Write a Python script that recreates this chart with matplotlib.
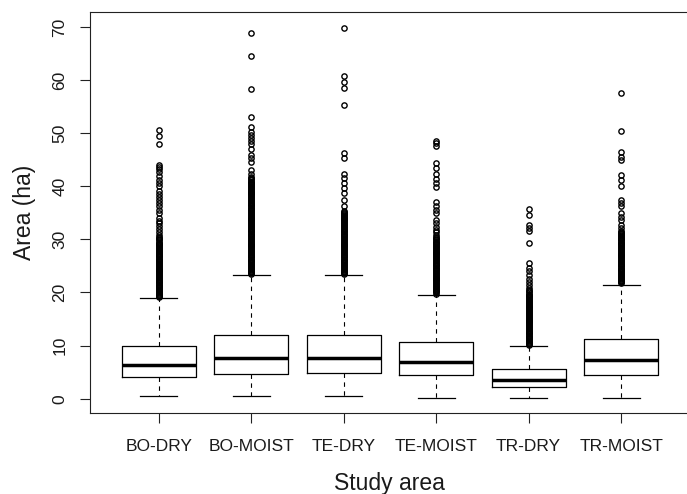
import numpy as np
import matplotlib
matplotlib.use('Agg')
import matplotlib.pyplot as plt

plt.rcParams['font.family'] = ['Liberation Sans', 'DejaVu Sans']

# ---- data ----
areas = ['BO-DRY', 'BO-MOIST', 'TE-DRY', 'TE-MOIST', 'TR-DRY', 'TR-MOIST']
medians = [6.35, 7.6, 7.6, 7.0, 3.6, 7.2]
q1s = [4.03, 4.65, 4.84, 4.4, 2.26, 4.4]
q3s = [9.98, 12.05, 12.05, 10.6, 5.5, 11.25]
whis_lo = [0.45, 0.45, 0.45, 0.2, 0.2, 0.2]
whis_hi = [18.9, 23.2, 23.2, 19.6, 10.0, 21.5]

out_bo_dry = [19.1, 19.4, 19.8, 20.1, 20.5, 20.8, 21.2, 21.5, 21.9, 22.2, 22.6,
              22.9, 23.3, 23.6, 24.0, 24.3, 24.7, 25.0, 25.4, 25.7, 26.1, 26.4,
              26.8, 27.1, 27.5, 27.8, 28.2, 28.5, 28.9, 29.2, 29.6, 30.0, 30.4,
              30.9, 31.4, 32.0, 32.5, 33.0, 33.5, 34.1, 35.0, 35.6, 36.3, 36.9,
              37.4, 38.0, 38.6, 39.2, 40.0, 40.6, 41.2, 42.0, 42.7, 43.3, 43.7,
              44.1, 48.0, 49.5, 50.6,
              # dense band
              19.25, 19.6, 19.95, 20.3, 20.65, 21.0, 21.35, 21.7, 22.05, 22.4,
              22.75, 23.1, 23.45, 23.8, 24.15, 24.5, 24.85, 25.2, 25.55, 25.9,
              26.25, 26.6, 26.95, 27.3, 27.65, 28.0, 28.35, 28.7, 29.05, 29.4,
              29.8, 30.2]
out_bo_moist = [23.4, 23.8, 24.1, 24.5, 24.8, 25.2, 25.5, 25.9, 26.2, 26.6, 26.9,
                27.3, 27.6, 28.0, 28.3, 28.7, 29.0, 29.4, 29.7, 30.1, 30.4, 30.8,
                31.1, 31.5, 31.8, 32.2, 32.5, 32.9, 33.2, 33.6, 33.9, 34.3, 34.6,
                35.0, 35.3, 35.7, 36.0, 36.4, 36.7, 37.1, 37.4, 37.8, 38.1, 38.5,
                38.8, 39.2, 39.5, 39.9, 40.2, 40.6, 40.9, 41.3, 41.7, 42.4, 43.0,
                44.5, 45.4, 45.9, 47.0, 48.0, 48.5, 49.0, 49.6, 50.3, 51.2, 53.1,
                58.3, 64.5, 68.8,
                # dense band
                23.6, 23.95, 24.3, 24.65, 25.0, 25.35, 25.7, 26.05, 26.4, 26.75,
                27.1, 27.45, 27.8, 28.15, 28.5, 28.85, 29.2, 29.55, 29.9, 30.25,
                30.6, 30.95, 31.3, 31.65, 32.0, 32.35, 32.7, 33.05, 33.4, 33.75,
                34.1, 34.45, 34.8, 35.15, 35.5, 35.85, 36.2, 36.55, 36.9, 37.25,
                37.6, 37.95, 38.3, 38.65, 39.0, 39.35, 39.7, 40.05, 40.4, 40.75,
                41.1, 41.5]
out_te_dry = [23.4, 23.8, 24.1, 24.5, 24.8, 25.2, 25.5, 25.9, 26.2, 26.6, 26.9,
              27.3, 27.6, 28.0, 28.3, 28.7, 29.0, 29.4, 29.7, 30.1, 30.4, 30.8,
              31.1, 31.5, 31.8, 32.2, 32.5, 32.9, 33.2, 33.6, 33.9, 34.3, 34.6,
              35.0, 35.4, 36.2, 37.4, 38.7, 39.6, 40.6, 41.5, 42.4, 45.4, 46.2,
              55.3, 58.6, 59.7, 60.8, 69.9,
              # dense band
              23.6, 23.95, 24.3, 24.65, 25.0, 25.35, 25.7, 26.05, 26.4, 26.75,
              27.1, 27.45, 27.8, 28.15, 28.5, 28.85, 29.2, 29.55, 29.9, 30.25,
              30.6, 30.95, 31.3, 31.65, 32.0, 32.35, 32.7, 33.05, 33.4, 33.75,
              34.1, 34.45, 34.8, 35.2]
out_te_moist = [19.8, 20.2, 20.5, 20.9, 21.2, 21.6, 21.9, 22.3, 22.6, 23.0, 23.3,
                23.7, 24.0, 24.4, 24.7, 25.1, 25.4, 25.8, 26.1, 26.5, 26.8, 27.2,
                27.5, 27.9, 28.2, 28.6, 28.9, 29.3, 29.6, 30.0, 30.5, 30.9, 31.4,
                31.8, 32.3, 33.1, 33.6, 34.9, 35.5, 36.3, 37.0, 39.8, 40.6, 41.3,
                42.4, 43.4, 44.3, 47.6, 48.1, 48.6,
                # dense band
                20.0, 20.35, 20.7, 21.05, 21.4, 21.75, 22.1, 22.45, 22.8, 23.15,
                23.5, 23.85, 24.2, 24.55, 24.9, 25.25, 25.6, 25.95, 26.3, 26.65,
                27.0, 27.35, 27.7, 28.05, 28.4, 28.75, 29.1, 29.45, 29.8, 30.2]
out_tr_dry = [10.2, 10.5, 10.9, 11.2, 11.6, 11.9, 12.3, 12.6, 13.0, 13.3, 13.7,
              14.0, 14.4, 14.7, 15.1, 15.4, 15.8, 16.1, 16.5, 16.8, 17.2, 17.5,
              17.9, 18.2, 18.6, 18.9, 19.3, 19.6, 20.0, 20.4, 20.9, 21.5, 22.0,
              22.5, 23.3, 24.1, 24.7, 25.6, 29.4, 31.5, 32.1, 32.7, 34.6, 35.7,
              # dense band
              10.35, 10.7, 11.05, 11.4, 11.75, 12.1, 12.45, 12.8, 13.15, 13.5,
              13.85, 14.2, 14.55, 14.9, 15.25, 15.6, 15.95, 16.3, 16.65, 17.0,
              17.35, 17.7, 18.05, 18.4, 18.75, 19.1, 19.45, 19.8, 20.2]
out_tr_moist = [21.7, 22.1, 22.4, 22.8, 23.1, 23.5, 23.8, 24.2, 24.5, 24.9, 25.2,
                25.6, 25.9, 26.3, 26.6, 27.0, 27.3, 27.7, 28.0, 28.4, 28.7, 29.1,
                29.4, 29.8, 30.1, 30.5, 30.8, 31.2, 31.6, 32.1, 32.7, 33.7, 34.3,
                34.9, 36.2, 36.8, 37.4, 40.0, 41.2, 42.1, 45.0, 45.6, 46.5, 50.4,
                57.6,
                # dense band
                21.9, 22.25, 22.6, 22.95, 23.3, 23.65, 24.0, 24.35, 24.7, 25.05,
                25.4, 25.75, 26.1, 26.45, 26.8, 27.15, 27.5, 27.85, 28.2, 28.55,
                28.9, 29.25, 29.6, 29.95, 30.3, 30.65, 31.0, 31.4]
outliers = [out_bo_dry, out_bo_moist, out_te_dry, out_te_moist, out_tr_dry, out_tr_moist]

yticks = [0, 10, 20, 30, 40, 50, 60, 70]

# ---- build stats for bxp ----
stats = []
for i in range(len(areas)):
    stats.append(dict(med=medians[i], q1=q1s[i], q3=q3s[i],
                      whislo=whis_lo[i], whishi=whis_hi[i],
                      fliers=np.array(outliers[i])))

pos = np.arange(1, len(areas) + 1)

fig = plt.figure(figsize=(6.87, 4.94), dpi=100)
ax = fig.add_axes([90/687, 1 - 413.3/494, 599.5/687, 401.3/494])

txt = '#1a1a1a'
ax.bxp(stats, positions=pos, widths=0.8, capwidths=0.4,
       boxprops=dict(color='black', linewidth=0.9),
       whiskerprops=dict(color='black', linewidth=0.8, linestyle=(0, (4, 4))),
       capprops=dict(color='black', linewidth=0.9),
       medianprops=dict(color='black', linewidth=2.5, solid_capstyle='butt'),
       flierprops=dict(marker='o', markersize=3.8, markerfacecolor='none',
                       markeredgecolor='black', markeredgewidth=1.0))

ax.set_xlim(0.257, 6.74)
ax.set_ylim(-2.75, 72.82)
ax.set_xticks(pos)
ax.set_xticklabels(areas)
ax.set_yticks(yticks)
ax.set_yticklabels([str(v) for v in yticks], rotation=90, va='center')

for sp in ax.spines.values():
    sp.set_linewidth(0.8)
    sp.set_color('#222222')

ax.tick_params(axis='both', direction='out', length=7.2, width=0.8,
               color='#222222', labelsize=12.5, labelcolor=txt)
ax.tick_params(axis='x', pad=11)
ax.tick_params(axis='y', pad=9)

ax.set_xlabel('Study area', fontsize=16.5, color=txt, labelpad=13)
ax.set_ylabel('Area (ha)', fontsize=16.5, color=txt, labelpad=12)

fig.savefig('out.png', dpi=100)
